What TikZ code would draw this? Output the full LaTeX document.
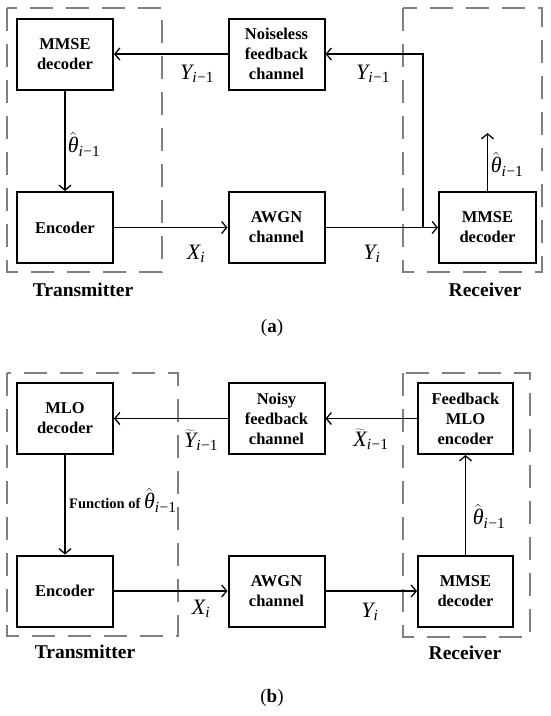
\documentclass[tikz,border=0pt]{standalone}
\usepackage{fix-cm}
\usepackage{fontspec}
\setmainfont{Liberation Serif}
\usetikzlibrary{arrows.meta}
\newcommand{\lsub}[1]{\textsubscript{\itshape #1}}
\newcommand{\lvar}[1]{{\itshape #1}}
\newcommand{\thhat}{$\hat{\hbox{\itshape θ}}$}
\begin{document}
\begin{tikzpicture}[x=1pt,y=-1pt,>={Straight Barb[length=5pt,width=12pt]},
 blk/.style={draw,line width=2pt,minimum width=96pt,minimum height=71pt,align=center,font=\fontsize{16.5}{20}\selectfont\bfseries},
 grp/.style={draw=gray,line width=1.2pt,dash pattern=on 23pt off 13pt},
 lbl/.style={font=\fontsize{22}{24}\selectfont},
 grplabel/.style={font=\fontsize{19.5}{24}\selectfont\bfseries},
 wire/.style={->,line width=1.3pt}]
\useasboundingbox (0,0) rectangle (550,716);
% (a)
\draw[grp] (7,8) rectangle (162,272); \draw[grp] (403,8) rectangle (542,272);
\node[blk] (decA) at (65,54) {MMSE\\decoder};
\node[blk] (encA) at (65,227.5) {Encoder};
\node[blk] (nfbA) at (276.5,54) {Noiseless\\feedback\\channel};
\node[blk] (awgnA) at (276.5,227.5) {AWGN\\channel};
\node[blk,minimum width=97pt] (rdecA) at (487.5,227.5) {MMSE\\decoder};
\coordinate (jA) at (423,227.5); \coordinate (outA) at (487.5,133);
\draw[wire] (decA) -- (encA); \draw[wire] (encA) -- (awgnA); \draw[wire] (awgnA) -- (rdecA);
\draw[wire] (jA) |- (nfbA.east); \draw[wire] (nfbA) -- (decA); \draw[wire] (rdecA) -- (outA);
\node[lbl] (yA1) at (197,74) {\lvar{Y}\lsub{i}\textsubscript{−1}}; \node[lbl] (yA2) at (373,74) {\lvar{Y}\lsub{i}\textsubscript{−1}};
\node[lbl] (thA1) at (84,144) {\thhat\lsub{i}\textsubscript{−1}}; \node[lbl] (thA2) at (507,164) {\thhat\lsub{i}\textsubscript{−1}};
\node[lbl] (xA) at (196,254) {\lvar{X}\lsub{i}}; \node[lbl] (yA3) at (372,254) {\lvar{Y}\lsub{i}};
\node[grplabel] (txA) at (83,290) {Transmitter}; \node[grplabel] (rxA) at (485,290) {Receiver};
\node[font=\fontsize{19}{22}\selectfont] (capA) at (272,328) {(\textbf{a})};
% (b)
\draw[grp] (7,373) rectangle (178,636); \draw[grp] (403,373) rectangle (530,637);
\node[blk] (decB) at (65,418.5) {MLO\\decoder};
\node[blk] (encB) at (65,591) {Encoder};
\node[blk] (nfbB) at (276.5,418.5) {Noisy\\feedback\\channel};
\node[blk] (awgnB) at (276.5,591) {AWGN\\channel};
\node[blk,minimum width=95pt] (fencB) at (465.5,418.5) {Feedback\\MLO\\encoder};
\node[blk,minimum width=95pt] (rdecB) at (465.5,591) {MMSE\\decoder};
\draw[wire] (decB) -- (encB); \draw[wire] (encB) -- (awgnB); \draw[wire] (awgnB) -- (rdecB);
\draw[wire] (rdecB) -- (fencB); \draw[wire] (fencB) -- (nfbB); \draw[wire] (nfbB) -- (decB);
\node[lbl] (yB1) at (201,440) {$\widetilde{\hbox{\itshape Y}}$\lsub{i}\textsubscript{−1}};
\node[lbl] (xB1) at (371,439) {$\widetilde{\hbox{\itshape X}}$\lsub{i}\textsubscript{−1}};
\node[lbl,anchor=west,inner sep=0pt] (fnB) at (69,500) {{\fontsize{14.5}{18}\selectfont\bfseries Function of }\thhat\lsub{i}\textsubscript{−1}};
\node[lbl] (thB) at (489,516) {\thhat\lsub{i}\textsubscript{−1}};
\node[lbl] (xB) at (201,609) {\lvar{X}\lsub{i}}; \node[lbl] (yB) at (370,612) {\lvar{Y}\lsub{i}};
\node[grplabel] (txB) at (85,652) {Transmitter}; \node[grplabel] (rxB) at (465,653) {Receiver};
\node[font=\fontsize{19}{22}\selectfont] (capB) at (272,698) {(\textbf{b})};
\end{tikzpicture}
\end{document}
